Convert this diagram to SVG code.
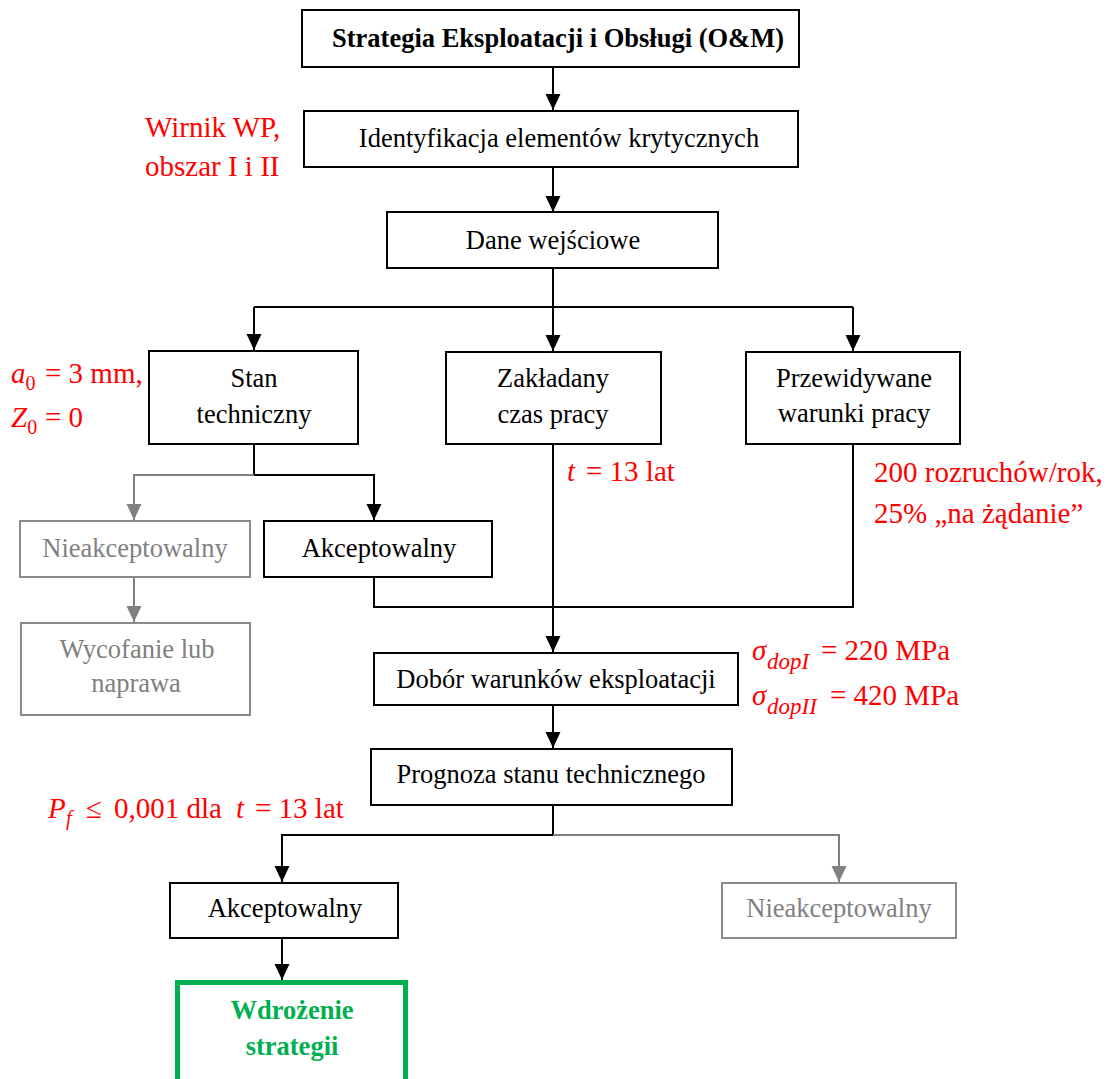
<svg xmlns="http://www.w3.org/2000/svg" width="1110" height="1079" viewBox="0 0 1110 1079">
  <defs>
    <style>
      .box { fill: #ffffff; stroke: #000000; stroke-width: 2; }
      .gbox { fill: #ffffff; stroke: #8a8a8a; stroke-width: 2; }
      .lbl { font-family: "Liberation Serif", "Times New Roman", serif; font-size: 26.5px; fill: #000000; text-anchor: middle; }
      .glbl { font-family: "Liberation Serif", "Times New Roman", serif; font-size: 26.5px; fill: #808080; text-anchor: middle; }
      .bold { font-weight: bold; }
      .green { fill: #00b050; }
      .note { font-family: "Liberation Serif", "Times New Roman", serif; font-size: 29px; fill: #ff0000; }
      .mi { font-style: italic; }
      .sub { font-size: 20px; }
      .sub2 { font-size: 23px; }
      .ln { fill: none; stroke: #000000; stroke-width: 2; }
      .gln { fill: none; stroke: #808080; stroke-width: 2; }
    </style>
    <marker id="ah" markerUnits="userSpaceOnUse" markerWidth="16" markerHeight="16" viewBox="0 0 15 14" refX="15" refY="7" orient="auto">
      <path d="M0,0 L15,7 L0,14 Z" fill="#000000"/>
    </marker>
    <marker id="gah" markerUnits="userSpaceOnUse" markerWidth="16" markerHeight="16" viewBox="0 0 15 14" refX="15" refY="7" orient="auto">
      <path d="M0,0 L15,7 L0,14 Z" fill="#808080"/>
    </marker>
  </defs>

  <rect width="1110" height="1079" fill="#ffffff"/>

  <!-- connectors -->
  <g id="connectors">
    <path class="ln" d="M553,67 V110" marker-end="url(#ah)"/>
    <path class="ln" d="M553,167 V212" marker-end="url(#ah)"/>
    <path class="ln" d="M553,268 V307 M254,307 H853"/>
    <path class="ln" d="M254,307 V350" marker-end="url(#ah)"/>
    <path class="ln" d="M553,307 V351" marker-end="url(#ah)"/>
    <path class="ln" d="M853,307 V351" marker-end="url(#ah)"/>
    <path class="ln" d="M254,444 V475 H374 V520" marker-end="url(#ah)"/>
    <path class="gln" d="M254,475 H134 V520" marker-end="url(#gah)"/>
    <path class="gln" d="M134,577 V622" marker-end="url(#gah)"/>
    <path class="ln" d="M374,577 V607 H853 V444"/>
    <path class="ln" d="M553,444 V652" marker-end="url(#ah)"/>
    <path class="ln" d="M553,705 V748" marker-end="url(#ah)"/>
    <path class="ln" d="M553,805 V835 H282 V882" marker-end="url(#ah)"/>
    <path class="gln" d="M553,835 H839 V882" marker-end="url(#gah)"/>
    <path class="ln" d="M282,938 V980" marker-end="url(#ah)"/>
  </g>

  <!-- process nodes -->
  <g id="n-strategia">
    <rect class="box" x="302" y="10" width="497" height="57"/>
    <text class="lbl bold" x="558" y="47">Strategia Eksploatacji i Obsługi (O&amp;M)</text>
  </g>
  <g id="n-identyfikacja">
    <rect class="box" x="304" y="111" width="494" height="56"/>
    <text class="lbl" x="559" y="147">Identyfikacja elementów krytycznych</text>
  </g>
  <g id="n-dane">
    <rect class="box" x="387" y="212" width="331" height="56"/>
    <text class="lbl" x="553" y="249">Dane wejściowe</text>
  </g>
  <g id="n-stan">
    <rect class="box" x="149" y="351" width="209" height="93"/>
    <text class="lbl" x="254" y="387">Stan</text>
    <text class="lbl" x="254" y="423">techniczny</text>
  </g>
  <g id="n-czas">
    <rect class="box" x="446" y="352" width="215" height="92"/>
    <text class="lbl" x="553" y="387">Zakładany</text>
    <text class="lbl" x="553" y="423">czas pracy</text>
  </g>
  <g id="n-warunki">
    <rect class="box" x="746" y="352" width="214" height="92"/>
    <text class="lbl" x="854" y="387">Przewidywane</text>
    <text class="lbl" x="854" y="422">warunki pracy</text>
  </g>
  <g id="n-nieakcept-1">
    <rect class="gbox" x="20" y="521" width="230" height="56"/>
    <text class="glbl" x="135" y="557">Nieakceptowalny</text>
  </g>
  <g id="n-akcept-1">
    <rect class="box" x="264" y="521" width="228" height="56"/>
    <text class="lbl" x="379" y="557">Akceptowalny</text>
  </g>
  <g id="n-wycofanie">
    <rect class="gbox" x="21" y="623" width="229" height="92"/>
    <text class="glbl" x="137" y="658">Wycofanie lub</text>
    <text class="glbl" x="136" y="692">naprawa</text>
  </g>
  <g id="n-dobor">
    <rect class="box" x="374" y="653" width="364" height="52"/>
    <text class="lbl" x="556" y="688">Dobór warunków eksploatacji</text>
  </g>
  <g id="n-prognoza">
    <rect class="box" x="371" y="749" width="361" height="56"/>
    <text class="lbl" x="551" y="783">Prognoza stanu technicznego</text>
  </g>
  <g id="n-akcept-2">
    <rect class="box" x="170" y="883" width="228" height="55"/>
    <text class="lbl" x="285" y="917">Akceptowalny</text>
  </g>
  <g id="n-nieakcept-2">
    <rect class="gbox" x="722" y="883" width="234" height="55"/>
    <text class="glbl" x="839" y="917">Nieakceptowalny</text>
  </g>
  <g id="n-wdrozenie">
    <rect x="177.5" y="982.5" width="228" height="130" fill="#ffffff" stroke="#00b050" stroke-width="5"/>
    <text class="lbl bold green" x="292" y="1019">Wdrożenie</text>
    <text class="lbl bold green" x="292" y="1055">strategii</text>
  </g>

  <!-- annotations -->
  <g id="notes">
    <text class="note" x="145" y="137">Wirnik WP,</text>
    <text class="note" x="145" y="176">obszar I i II</text>

    <text class="note" y="383"><tspan class="mi" x="11">a</tspan><tspan class="sub" y="390">0</tspan><tspan x="45" y="383">= 3 mm,</tspan></text>
    <text class="note" y="427"><tspan class="mi" x="11">Z</tspan><tspan class="sub" y="434">0</tspan><tspan x="45" y="427">= 0</tspan></text>

    <text class="note" y="481"><tspan class="mi" x="567">t</tspan><tspan x="586">= 13 lat</tspan></text>

    <text class="note" x="874" y="482">200 rozruchów/rok,</text>
    <text class="note" x="874" y="523">25% „na żądanie”</text>

    <text class="note" y="660"><tspan class="mi" x="752">σ</tspan><tspan class="mi sub2" x="767" y="669">dopI</tspan><tspan x="821" y="660">= 220 MPa</tspan></text>
    <text class="note" y="705"><tspan class="mi" x="752">σ</tspan><tspan class="mi sub2" x="767" y="714">dopII</tspan><tspan x="830" y="705">= 420 MPa</tspan></text>

    <text class="note" y="818"><tspan class="mi" x="48">P</tspan><tspan class="mi sub" x="66" y="825">f</tspan><tspan x="86" y="818">≤</tspan><tspan x="114">0,001 dla</tspan><tspan class="mi" x="236">t</tspan><tspan x="255">= 13 lat</tspan></text>
  </g>
</svg>
